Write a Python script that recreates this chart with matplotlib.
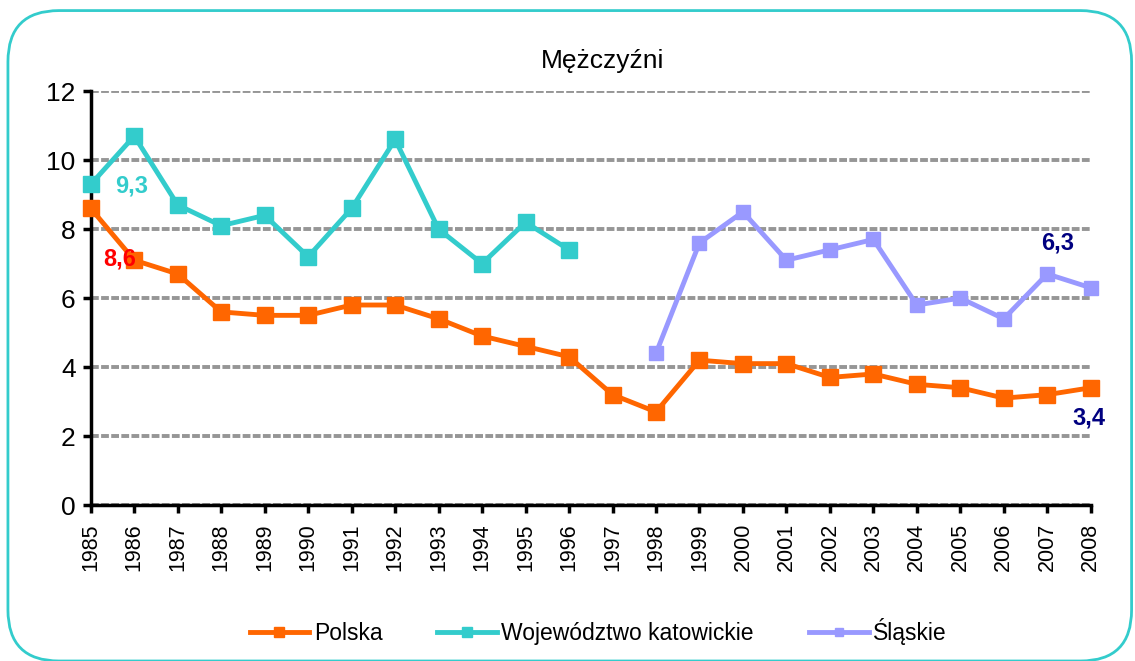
import numpy as np
import matplotlib.pyplot as plt
from matplotlib.patches import FancyBboxPatch

plt.rcParams['font.family'] = ['Liberation Sans', 'DejaVu Sans']

years = np.arange(1985, 2009)
polska = [8.6, 7.1, 6.7, 5.6, 5.5, 5.5, 5.8, 5.8, 5.4, 4.9, 4.6, 4.3,
          3.2, 2.7, 4.2, 4.1, 4.1, 3.7, 3.8, 3.5, 3.4, 3.1, 3.2, 3.4]
kat_years = np.arange(1985, 1997)
katowickie = [9.3, 10.7, 8.7, 8.1, 8.4, 7.2, 8.6, 10.6, 8.0, 7.0, 8.2, 7.4]
sl_years = np.arange(1998, 2009)
slaskie = [4.4, 7.6, 8.5, 7.1, 7.4, 7.7, 5.8, 6.0, 5.4, 6.7, 6.3]

fig = plt.figure(figsize=(11.35, 6.61), dpi=100)
ax = fig.add_axes([0.080, 0.236, 0.881, 0.626])

# rounded border round the whole chart
border = FancyBboxPatch((0.007, 0.0), 0.99, 0.984, boxstyle='round,pad=0,rounding_size=0.045',
                        transform=fig.transFigure, fill=False, edgecolor='#33CCCC', linewidth=2,
                        mutation_aspect=1135/661)
fig.patches.append(border)

ax.plot(years, polska, color='#FF6600', lw=3.5, marker='s', ms=12, label='Polska', clip_on=False, zorder=3)
ax.plot(kat_years, katowickie, color='#33CCCC', lw=3.5, marker='s', ms=12, label='Województwo katowickie',
        clip_on=False, zorder=3)
ax.plot(sl_years, slaskie, color='#9999FF', lw=3.5, marker='s', ms=10, label='Śląskie', clip_on=False, zorder=3)

ax.set_xlim(1985, 2008)
ax.set_ylim(0, 12)
ax.set_yticks(np.arange(0, 13, 2))
ax.set_xticks(years)
ax.set_xticklabels([str(y) for y in years], rotation=90, fontsize=15.5)
ax.tick_params(axis='y', labelsize=19, length=6, width=2.5, pad=5)
ax.tick_params(axis='x', length=6, width=2.5, pad=7)
ax.yaxis.grid(True, color='#969696', linestyle=(0, (2, 0.6)), linewidth=2.8)
ax.set_axisbelow(True)
for s in ['top', 'right']:
    ax.spines[s].set_visible(False)
for s in ['left', 'bottom']:
    ax.spines[s].set_linewidth(2.5)

ax.set_title('Mężczyźni', fontsize=19, pad=17, x=0.512)

ax.text(1985.94, 9.25, '9,3', color='#33CCCC', fontsize=17, fontweight='bold', va='center', ha='center')
ax.text(1985.67, 7.13, '8,6', color='#FF0000', fontsize=17, fontweight='bold', va='center', ha='center')
ax.text(2007.24, 7.6, '6,3', color='#000080', fontsize=17, fontweight='bold', va='center', ha='center')
ax.text(2007.95, 2.52, '3,4', color='#000080', fontsize=17, fontweight='bold', va='center', ha='center')

fig.legend(loc='center', bbox_to_anchor=(0.527, 0.045), ncol=3, frameon=False, fontsize=16.5,
           handlelength=2.6, columnspacing=2.4, handletextpad=0.2, markerscale=0.55)

plt.savefig('out.png', dpi=100)
